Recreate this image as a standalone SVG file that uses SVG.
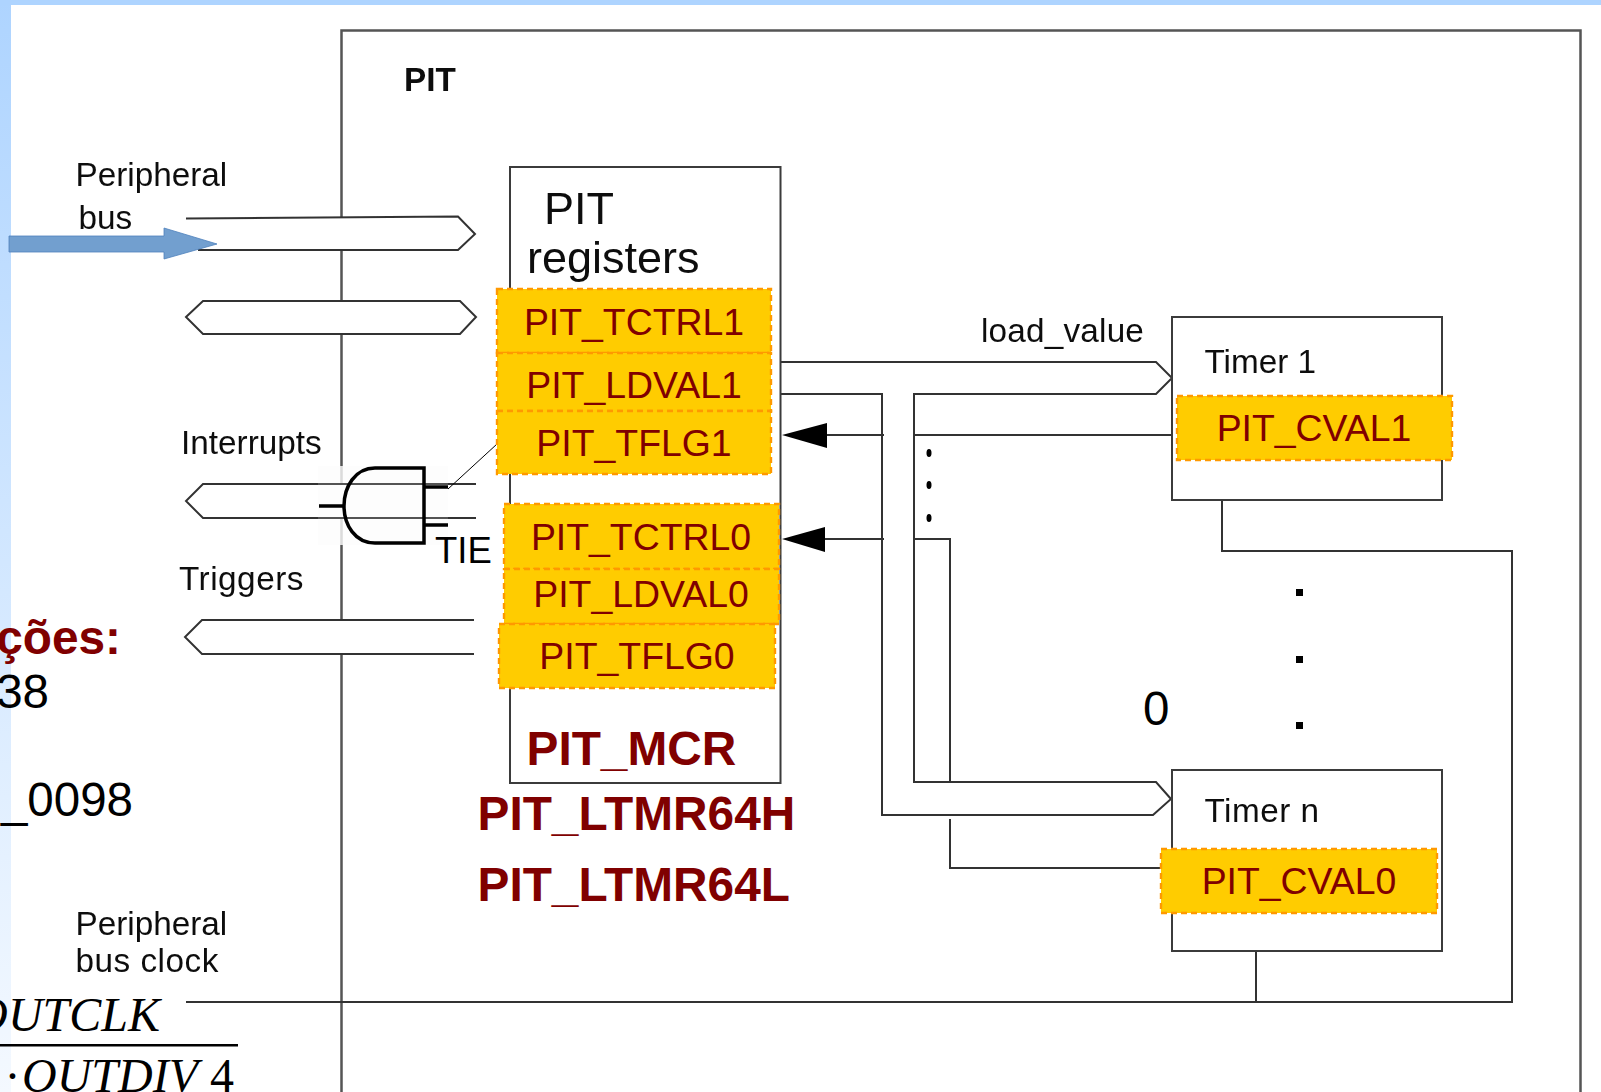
<svg xmlns="http://www.w3.org/2000/svg" width="1601" height="1092" viewBox="0 0 1601 1092">
<style>
.line{fill:none;stroke:#333;stroke-width:2}
.bus{fill:#fff;stroke:#333;stroke-width:2}
.box{fill:#fff;stroke:#3a3a3a;stroke-width:2}
.soft{filter:url(#soft)}
.t{font-family:"Liberation Sans",Arial,sans-serif;fill:#111;font-size:33.300px}
.reg{fill:#ffcc00;stroke:#ff9900;stroke-width:2.400;stroke-dasharray:6 4}
.rt{font-family:"Liberation Sans",Arial,sans-serif;fill:#800000;font-size:37.400px;text-anchor:middle}
.rb{font-family:"Liberation Sans",Arial,sans-serif;fill:#800000;font-size:47.800px;font-weight:bold}
.k{font-family:"Liberation Sans",Arial,sans-serif;fill:#000;font-size:47.500px}
.m{font-family:"Liberation Serif","Times New Roman",serif;fill:#000;font-size:48px}
</style>
<defs>
<linearGradient id="bar" x1="0" y1="0" x2="0" y2="1"><stop offset="0" stop-color="#aed4ff"/><stop offset="1" stop-color="#f4f9ff"/></linearGradient>
<filter id="soft" filterUnits="userSpaceOnUse" x="0" y="0" width="1601" height="1092"><feGaussianBlur stdDeviation="0.650"/></filter>
</defs>
<rect width="1601" height="1092" fill="#fff"/>
<g id="slide-frame">
<rect x="0" y="0" width="11" height="1092" fill="url(#bar)"/>
<rect x="0" y="0" width="1601" height="5" fill="#aed4ff"/>
</g>
<g id="pit-block" class="soft">
<path d="M341.500 1092V30.500H1580.500V1092" fill="none" stroke="#555" stroke-width="2.500"/>
<text class="t" x="404" y="91" font-weight="bold">PIT</text>
</g>
<g id="connectors" class="soft">
<path class="bus" d="M186 218.500L458 216.500L475 234L458 250H198"/>
<path class="bus" d="M186 317L203 301H460L476 317L460 334H203Z"/>
<path class="bus" d="M476 484H203L186 501L203 518H476"/>
<path class="bus" d="M474 620H202L185 637L202 654H474"/>
<path class="line" d="M781 394H882V815H1153L1171 799L1156 782H914V394H1156L1172 378L1156 362H781"/>
<path class="line" d="M884 435H825M915 435H1172"/>
<path class="line" d="M884 539H823M915 539H950V782M950 819V868H1161"/>
<path class="line" d="M1222 500V551H1512V1002H186M1256 951V1002"/>
<path d="M782 435L827 423V448Z" fill="#000"/>
<path d="M782 539L825 527V552Z" fill="#000"/>
<ellipse cx="929" cy="453" rx="2.500" ry="4" fill="#000"/>
<ellipse cx="929" cy="485" rx="2.500" ry="4" fill="#000"/>
<ellipse cx="929" cy="518" rx="2.500" ry="4" fill="#000"/>
<rect x="1296" y="589" width="7" height="7" fill="#000"/>
<rect x="1296" y="656" width="7" height="7" fill="#000"/>
<rect x="1296" y="722" width="7" height="7" fill="#000"/>
</g>
<g id="bus-labels" class="soft">
<text class="t" x="75.500" y="186">Peripheral</text>
<text class="t" x="78.500" y="229">bus</text>
<text class="t" x="181" y="454">Interrupts</text>
<text class="t" x="179" y="590" letter-spacing="0.500">Triggers</text>
<text class="t" x="75.500" y="935">Peripheral</text>
<text class="t" x="75.500" y="972" letter-spacing="0.500">bus clock</text>
<text class="t" x="981" y="341.500" letter-spacing="0.200">load_value</text>
</g>
<g id="pit-registers" class="soft">
<rect class="box" x="510" y="167" width="270.500" height="616"/>
<text class="t" x="544" y="223.500" style="font-size:45px">PIT</text>
<text class="t" x="527" y="273" style="font-size:45px">registers</text>
</g>
<g id="timer-1">
<rect class="box soft" x="1172" y="317" width="270" height="183"/>
<text class="t soft" x="1204.500" y="373">Timer 1</text>
</g>
<g id="timer-n">
<rect class="box soft" x="1172" y="770" width="270" height="181"/>
<text class="t soft" x="1204.500" y="822" letter-spacing="0.500">Timer n</text>
</g>
<g id="bus-arrow">
<path d="M9 236H164V228L217 244L164 259V252H9Z" fill="#729fcf" stroke="#4f81bd" stroke-width="0.800"/>
</g>
<g id="and-gate">
<rect x="318" y="466" width="130" height="79" fill="#fcfcfc" fill-opacity="0.800"/>
<path d="M203 484H476M203 518H476" fill="none" stroke="#333" stroke-width="2" opacity="0.800"/>
<path d="M375 468H424V543H375C355 543 344 525 344 506C344 487 355 468 375 468Z" fill="none" stroke="#000" stroke-width="3.500"/>
<path d="M319 506H344M424 487H448M424 525H448" fill="none" stroke="#000" stroke-width="3.500"/>
<path d="M448 489L497 444" fill="none" stroke="#000" stroke-width="1"/>
<text class="k" x="435" y="563" style="font-size:36.500px">TIE</text>
</g>
<g id="reg-tctrl1"><rect class="reg" x="497" y="289" width="274" height="64"/><text class="rt" x="634" y="335">PIT_TCTRL1</text></g>
<g id="reg-ldval1"><rect class="reg" x="497" y="353" width="274" height="58"/><text class="rt" x="634" y="398">PIT_LDVAL1</text></g>
<g id="reg-tflg1"><rect class="reg" x="497" y="411" width="274" height="63"/><text class="rt" x="634" y="456">PIT_TFLG1</text></g>
<g id="reg-tctrl0"><rect class="reg" x="504" y="504" width="275" height="65"/><text class="rt" x="641" y="550">PIT_TCTRL0</text></g>
<g id="reg-ldval0"><rect class="reg" x="504" y="569" width="275" height="55"/><text class="rt" x="641" y="607">PIT_LDVAL0</text></g>
<g id="reg-tflg0"><rect class="reg" x="499" y="624" width="276" height="64"/><text class="rt" x="637" y="669">PIT_TFLG0</text></g>
<g id="reg-cval1"><rect class="reg" x="1177" y="396" width="275" height="64"/><text class="rt" x="1314" y="441">PIT_CVAL1</text></g>
<g id="reg-cval0"><rect class="reg" x="1161" y="849" width="276" height="64"/><text class="rt" x="1299" y="894">PIT_CVAL0</text></g>
<g id="reg-mcr"><text class="rb" x="526.500" y="765">PIT_MCR</text></g>
<g id="reg-ltmr64h"><text class="rb" x="477.500" y="830">PIT_LTMR64H</text></g>
<g id="reg-ltmr64l"><text class="rb" x="477.500" y="901">PIT_LTMR64L</text></g>
<g id="zero"><text class="k" x="1143" y="725">0</text></g>
<g id="left-text">
<text class="rb" x="121" y="654" text-anchor="end">ções:</text>
<text class="k" x="49" y="708" text-anchor="end">38</text>
<text class="k" x="133" y="816" text-anchor="end">_0098</text>
</g>
<g id="formula">
<text class="m" x="160" y="1031" font-style="italic" text-anchor="end">OUTCLK</text>
<rect x="0" y="1044" width="238" height="2.500" fill="#000"/>
<text class="m" x="4.500" y="1092">·</text>
<text class="m" x="22" y="1092" font-style="italic">OUTDIV</text>
<text class="m" x="210" y="1092">4</text>
</g>
</svg>
